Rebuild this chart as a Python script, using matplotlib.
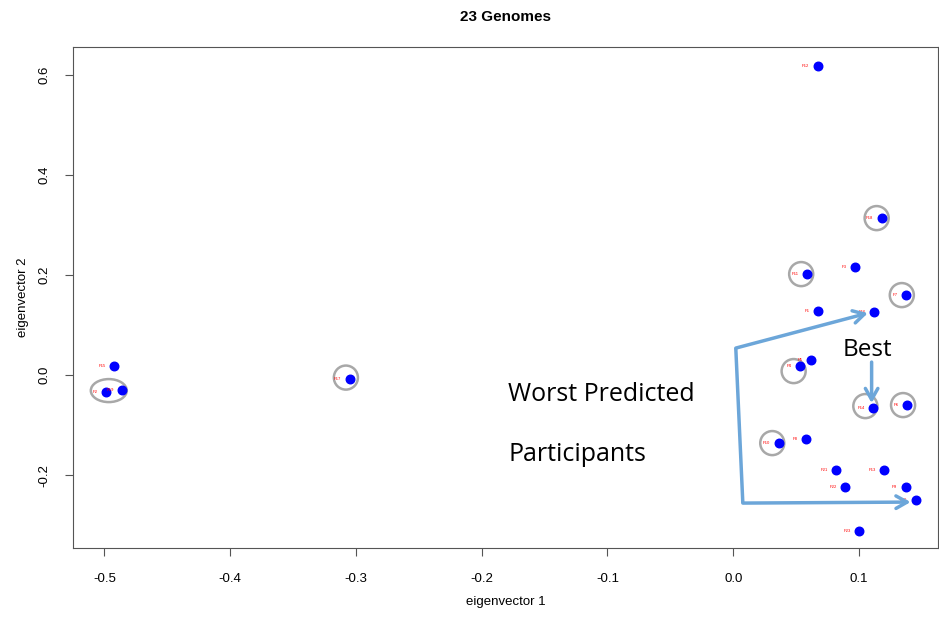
import matplotlib.pyplot as plt
from matplotlib.patches import Ellipse

plt.rcParams['font.family'] = ['Liberation Sans', 'DejaVu Sans']
plt.rcParams['axes.unicode_minus'] = False

# eigenvector coordinates of the 23 genomes
labels = ['P12', 'P18', 'P3', 'P11', 'P7', 'P1', 'P16', 'P4', 'P5', 'P14', 'P6', 'P10',
          'P8', 'P21', 'P13', 'P22', 'P9', 'P20', 'P23', 'P15', 'P2', 'P19', 'P17']
ev1 = [0.067, 0.118, 0.097, 0.059, 0.137, 0.067, 0.112, 0.053, 0.062, 0.111, 0.138, 0.036,
       0.058, 0.082, 0.120, 0.089, 0.137, 0.145, 0.100, -0.492, -0.499, -0.486, -0.305]
ev2 = [0.618, 0.314, 0.216, 0.202, 0.161, 0.129, 0.127, 0.019, 0.031, -0.065, -0.060, -0.135,
       -0.127, -0.189, -0.189, -0.223, -0.223, -0.249, -0.311, 0.019, -0.034, -0.030, -0.007]

# grey rings drawn by hand around some points
ring_x = [0.114, 0.054, 0.134, 0.048, 0.105, 0.135, 0.031, -0.308]
ring_y = [0.314, 0.202, 0.160, 0.008, -0.062, -0.060, -0.136, -0.005]
oval_xy = (-0.4965, -0.031)

# blue annotation arrows
path_x = [0.0076, 0.002]
path_y = [-0.256, 0.054]
arrow_from = [(0.002, 0.054), (0.0076, -0.256), (0.110, 0.026)]
arrow_to = [(0.107, 0.124), (0.141, -0.254), (0.110, -0.056)]

fig = plt.figure(figsize=(9.39, 6.2), dpi=100)
ax = fig.add_axes([0.0777, 0.116, 0.921, 0.808])

ax.scatter(ev1, ev2, s=38, color='#0000FF', zorder=3)
for lab, x, y in zip(labels, ev1, ev2):
    ax.annotate(lab, (x, y), xytext=(-6, 0), textcoords='offset points',
                ha='right', va='center', fontsize=3, color='red')

ax.scatter(ring_x, ring_y, s=300, facecolors='none', edgecolors='#A8A8A8', linewidths=1.8, zorder=2)
ax.add_patch(Ellipse(oval_xy, 0.0286, 0.046, fill=False, edgecolor='#A8A8A8', lw=1.8))

blue = '#6CA6D9'
ax.plot(path_x, path_y, color=blue, lw=2.5, solid_capstyle='butt')
for a, b in zip(arrow_from, arrow_to):
    ax.annotate('', xy=b, xytext=a,
                arrowprops=dict(arrowstyle='->,head_length=0.8,head_width=0.45',
                                color=blue, lw=2.5, shrinkA=0, shrinkB=0))

ax.text(-0.179, -0.038, 'Worst Predicted', fontsize=18, family='Open Sans', va='center')
ax.text(-0.179, -0.158, 'Participants', fontsize=18, family='Open Sans', va='center')
ax.text(0.087, 0.050, 'Best', fontsize=17.5, family='Open Sans', va='center')

ax.set_xlim(-0.525, 0.1626)
ax.set_ylim(-0.346, 0.656)
ax.set_xticks([-0.5, -0.4, -0.3, -0.2, -0.1, 0.0, 0.1])
ax.set_yticks([-0.2, 0.0, 0.2, 0.4, 0.6])
for lbl in ax.get_yticklabels():
    lbl.set_rotation(90)
    lbl.set_va('center')
ax.tick_params(labelsize=9.5, color='#555555', length=6)
ax.tick_params(axis='x', pad=12)
ax.tick_params(axis='y', pad=10)
for sp in ax.spines.values():
    sp.set_color('#555555')

ax.set_xlabel('eigenvector 1', fontsize=9.5, labelpad=8)
ax.set_ylabel('eigenvector 2', fontsize=9.5, labelpad=7)
ax.set_title('23 Genomes', fontsize=11, fontweight='bold', pad=19)

fig.savefig('out.png', dpi=100)
